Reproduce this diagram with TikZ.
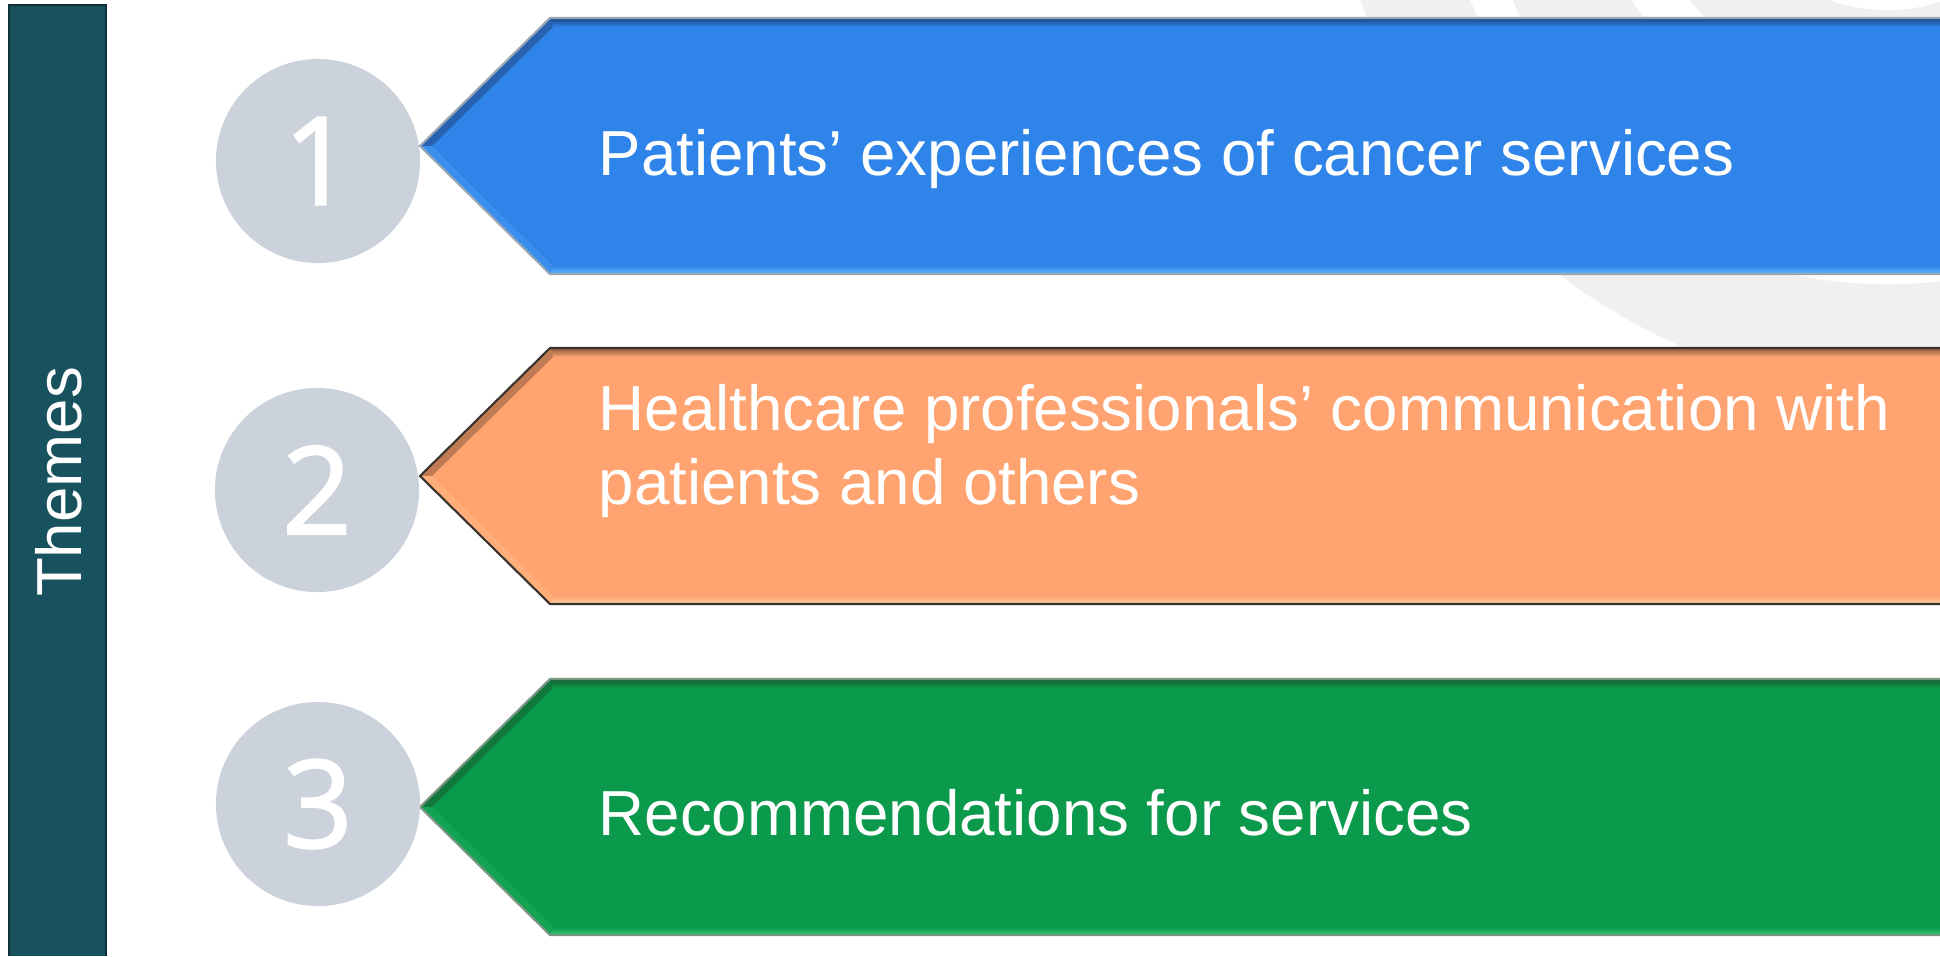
\documentclass[tikz,border=0pt]{standalone}
\usepackage{xcolor}
\usepackage{fontspec}
\setmainfont{Liberation Sans}
\newfontfamily\digitfont[FakeBold=1.6]{Open Sans}
\usepackage{tikz}
\usetikzlibrary{positioning, calc}

\definecolor{themebar}{RGB}{23,82,94}
\definecolor{numgrey}{RGB}{203,210,219}
\definecolor{bgring}{RGB}{240,240,240}
\definecolor{tblue}{RGB}{47,132,234}
\definecolor{tblueline}{RGB}{150,165,180}
\definecolor{tbluedark}{RGB}{32,70,128}
\definecolor{tbluelight}{RGB}{100,185,255}
\definecolor{torange}{RGB}{255,164,112}
\definecolor{torangeline}{RGB}{55,50,45}
\definecolor{torangedark}{RGB}{140,90,60}
\definecolor{torangelight}{RGB}{255,212,160}
\definecolor{tgreen}{RGB}{11,154,75}
\definecolor{tgreenline}{RGB}{120,150,130}
\definecolor{tgreendark}{RGB}{20,92,50}
\definecolor{tgreenlight}{RGB}{55,200,110}

\tikzstyle{numdisc} = [circle, fill=numgrey, minimum size=2.04cm, inner sep=0pt, text=white, font=\digitfont\fontsize{34.7}{40}\selectfont]
\tikzstyle{themetext} = [anchor=base west, inner sep=0pt, text=white, align=left, font=\fontsize{18.1}{20.8}\selectfont]
\tikzstyle{bartext} = [rotate=90, inner sep=0pt, text=white, font=\fontsize{18.1}{20.8}\selectfont]

% bevelled banner pointing left: #1 top y, #2 fill, #3 outline, #4 dark edge, #5 light edge
\newcommand{\themearrow}[5]{%
  \pgfmathsetmacro\arrtop{#1}
  \pgfmathsetmacro\arrbot{#1+256}
  \pgfmathsetmacro\arrmid{#1+128}
  \fill[#2] (420,\arrmid) -- (550,\arrtop) -- (1940,\arrtop) -- (1940,\arrbot) -- (550,\arrbot) -- cycle;
  \shade[top color=#4, bottom color=#2] (550,\arrtop) -- (1940,\arrtop) -- (1940,\arrtop+9) -- (553,\arrtop+9) -- cycle;
  \fill[#4!55!#2] (420,\arrmid) -- (550,\arrtop) -- (553,\arrtop+9) -- (432,\arrmid) -- cycle;
  \shade[top color=#2, bottom color=#5] (553,\arrbot-8) -- (1940,\arrbot-8) -- (1940,\arrbot) -- (550,\arrbot) -- cycle;
  \fill[#2!80!#5] (420,\arrmid) -- (432,\arrmid) -- (553,\arrbot-8) -- (550,\arrbot) -- cycle;
  \draw[#3, line width=0.6pt] (1940,\arrtop) -- (550,\arrtop) -- (420,\arrmid) -- (550,\arrbot) -- (1940,\arrbot);
}

\begin{document}
\begin{tikzpicture}[x=0.01cm, y=-0.01cm]
\useasboundingbox (0,0) rectangle (1940,956);

% faint rings in the background
\begin{scope}
\clip (0,0) rectangle (1940,956);
\fill[bgring] (1917,-194) circle (5.89cm);
\fill[white] (1887,-163) circle (4.47cm);
\fill[bgring, even odd rule] (1887,-163) circle (4.08cm) circle (3.03cm);
\fill[bgring, even odd rule] (1887,-163) circle (2.56cm) circle (1.73cm);
\end{scope}

% side bar
\fill[themebar] (9,5) rectangle (106,956);
\draw[themebar!60!black, line width=0.5pt] (9,956) -- (9,5) -- (106,5) -- (106,956);
\node (themes) [bartext] at (59,482) {Themes};

% banners
\themearrow{18}{tblue}{tblueline}{tbluedark}{tbluelight}
\themearrow{348}{torange}{torangeline}{torangedark}{torangelight}
\themearrow{679}{tgreen}{tgreenline}{tgreendark}{tgreenlight}

% numbers
\node (n1) [numdisc] at (318,161) {1};
\node (n2) [numdisc] at (317,490) {2};
\node (n3) [numdisc] at (318,804) {3};

% labels (base of a two-line node is its last line)
\node (patients) [themetext] at (598,175) {Patients’ experiences of cancer services};
\node (comms) [themetext] at (598,504) {Healthcare professionals’ communication with\\patients and others};
\node (recs) [themetext] at (598,835) {Recommendations for services};
\end{tikzpicture}
\end{document}
